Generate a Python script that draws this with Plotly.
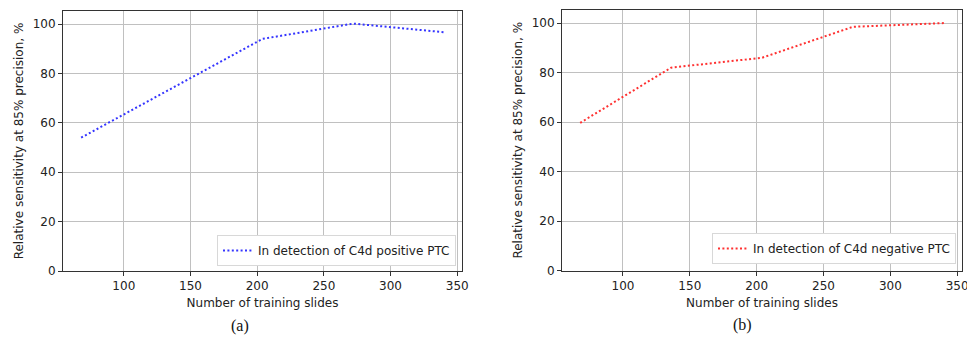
import plotly.graph_objects as go

# Data
slides = [68, 136, 204, 272, 340]
sens_pos = [54.0, 74.0, 94.0, 100.2, 96.7]
sens_neg = [59.7, 82.0, 86.0, 98.5, 100.0]
x_ticks = [100, 150, 200, 250, 300, 350]
y_ticks = [0, 20, 40, 60, 80, 100]
name_pos = "In detection of C4d positive PTC"
name_neg = "In detection of C4d negative PTC"
x_title = "Number of training slides"
y_title = "Relative sensitivity at 85% precision, %"
captions = ["(a)", "(b)"]

FONT = "DejaVu Sans"
FS = 12
W, H = 967, 337

fig = go.Figure()
fig.add_trace(go.Scatter(x=slides, y=sens_pos, mode="lines", name=name_pos,
                         line=dict(color="#3535ff", width=2, dash="2px,2.4px"),
                         xaxis="x", yaxis="y", legend="legend"))
fig.add_trace(go.Scatter(x=slides, y=sens_neg, mode="lines", name=name_neg,
                         line=dict(color="#ff3030", width=2, dash="2px,2.4px"),
                         xaxis="x2", yaxis="y2", legend="legend2"))

def xax(domain, anchor):
    return dict(domain=domain, anchor=anchor, range=[54.4, 353.6], tickvals=x_ticks,
                showgrid=True, gridcolor="#c0c0c0", gridwidth=1,
                showline=True, linecolor="#333333", linewidth=1, mirror=True,
                ticks="outside", ticklen=4, tickcolor="#333333", automargin=False,
                ticklabeloverflow="allow",
                tickfont=dict(family=FONT, size=FS, color="#222"),
                title=dict(text=x_title, font=dict(family=FONT, size=FS, color="#222"), standoff=6),
                zeroline=False)

def yax(domain, anchor):
    return dict(domain=domain, anchor=anchor, range=[0, 105.3], tickvals=y_ticks,
                showgrid=True, gridcolor="#c0c0c0", gridwidth=1,
                showline=True, linecolor="#333333", linewidth=1, mirror=True,
                ticks="outside", ticklen=4, tickcolor="#333333", automargin=False,
                tickfont=dict(family=FONT, size=FS, color="#222"),
                title=dict(text=y_title, font=dict(family=FONT, size=FS, color="#222"), standoff=6),
                zeroline=False)

leg_common = dict(bgcolor="white", bordercolor="#d8d8d8", borderwidth=1,
                  font=dict(family=FONT, size=FS, color="#222"),
                  xanchor="right", yanchor="bottom")

fig.update_layout(
    width=W, height=H,
    margin=dict(l=0, r=0, t=0, b=0),
    paper_bgcolor="white", plot_bgcolor="white",
    xaxis=xax([63 / W, 462 / W], "y"),
    yaxis=yax([1 - 271 / H, 1 - 11 / H], "x"),
    xaxis2=xax([562 / W, 962 / W], "y2"),
    yaxis2=yax([1 - 270.5 / H, 1 - 10 / H], "x2"),
    legend=dict(x=456 / W, y=1 - 266 / H, **leg_common),
    legend2=dict(x=956 / W, y=1 - 264 / H, **leg_common),
    showlegend=True,
    annotations=[
        dict(text=captions[0], x=240 / W, y=1 - 326 / H, xref="paper", yref="paper",
             xanchor="center", yanchor="middle",
             showarrow=False, font=dict(family="Liberation Serif", size=16, color="#111")),
        dict(text=captions[1], x=742 / W, y=1 - 325 / H, xref="paper", yref="paper",
             xanchor="center", yanchor="middle",
             showarrow=False, font=dict(family="Liberation Serif", size=16, color="#111")),
    ],
)

fig.write_html("out.html", config={"displayModeBar": False},
               post_script="document.body.style.margin='0';document.body.style.overflow='hidden';")
